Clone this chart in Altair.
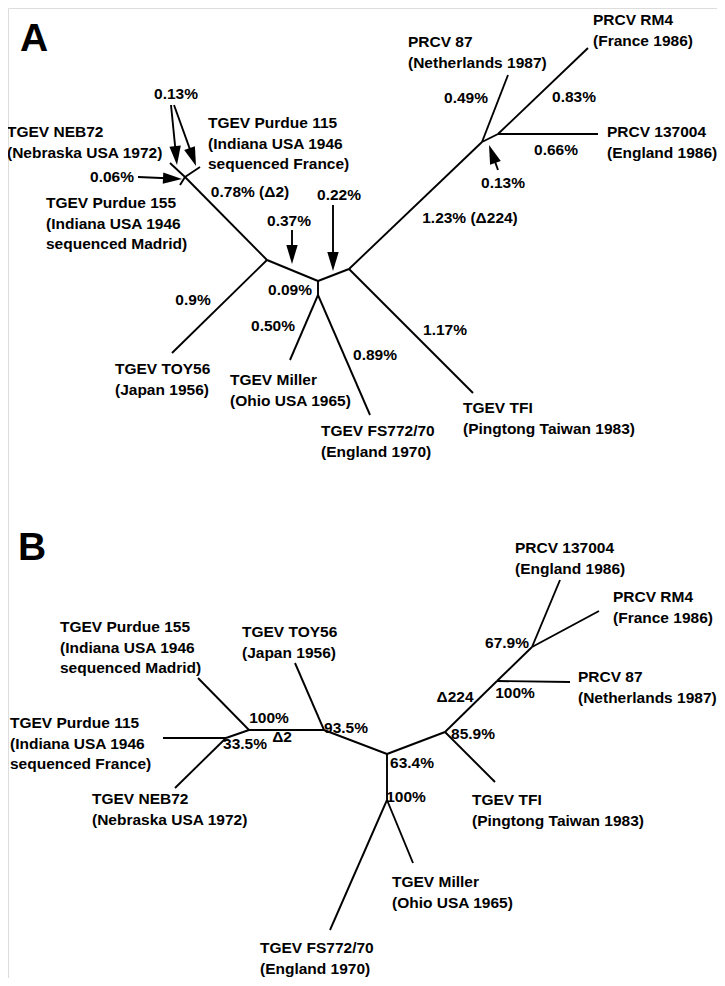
import math
import altair as alt
import pandas as pd

# ---------------- Panel A (sequence divergence tree) ----------------
a_node_names = ["NEB", "P115", "P155", "X", "N1", "TOY", "N2", "N3", "MIL", "FS",
                "N4", "TFI", "N5", "N6", "P87", "RM4", "R137"]
a_node_x = [170, 200, 180, 185, 267, 172, 318, 318, 290, 370, 349, 473, 482, 498, 508, 588, 598]
a_node_y = [163, 167, 185, 177, 260, 353, 281, 295, 360, 415, 269, 393, 142, 134, 75, 48, 134]
a_edge_from = ["X", "X", "X", "X", "N1", "N1", "N2", "N3", "N3", "N2", "N4", "N4", "N5", "N5", "N6", "N6"]
a_edge_to = ["NEB", "P115", "P155", "N1", "TOY", "N2", "N3", "MIL", "FS", "N4", "TFI", "N5", "P87", "N6", "RM4", "R137"]

a_leaf_text = [
    "TGEV NEB72\n(Nebraska USA 1972)",
    "TGEV Purdue 115\n(Indiana USA 1946\nsequenced France)",
    "TGEV Purdue 155\n(Indiana USA 1946\nsequenced Madrid)",
    "TGEV TOY56\n(Japan 1956)",
    "TGEV Miller\n(Ohio USA 1965)",
    "TGEV FS772/70\n(England 1970)",
    "TGEV TFI\n(Pingtong Taiwan 1983)",
    "PRCV 87\n(Netherlands 1987)",
    "PRCV RM4\n(France 1986)",
    "PRCV 137004\n(England 1986)",
]
a_leaf_x = [7, 208, 46, 115, 230, 321, 463, 408, 593, 607]
a_leaf_y = [132, 123, 203, 369, 380, 431, 408, 42, 20, 132]

a_pct_text = ["0.13%", "0.06%", "0.78% (\u03942)", "0.22%", "0.37%", "0.9%", "0.09%", "0.50%",
              "0.89%", "1.17%", "1.23% (\u0394224)", "0.49%", "0.83%", "0.66%", "0.13%"]
a_pct_x = [176, 112, 250, 339, 289, 193, 290, 273, 375, 445, 470, 466, 574, 556, 503]
a_pct_y = [94, 177, 192, 195, 221, 300, 290, 326, 355, 330, 218, 98, 97, 150, 183]

# arrows: tail -> tip
a_arrow_tail_x = [171, 174, 138, 292, 333, 498]
a_arrow_tail_y = [105, 105, 177, 230, 205, 170]
a_arrow_tip_x = [177, 196, 182, 292, 333, 489]
a_arrow_tip_y = [165, 166, 179, 264, 271, 145]

# ---------------- Panel B (bootstrap tree) ----------------
b_node_names = ["P155", "P", "TOY", "Q", "P115", "R", "NEB", "S", "U", "MIL", "FS",
                "T", "TFI", "W", "P87", "V", "R137", "RM4"]
b_node_x = [198, 249, 295, 324, 163, 226, 175, 387, 387, 413, 330, 445, 495, 497, 570, 532, 560, 599]
b_node_y = [678, 730, 663, 730, 738, 738, 788, 754, 800, 863, 930, 732, 782, 681, 682, 647, 580, 611]
b_edge_from = ["P", "P", "R", "R", "P", "Q", "Q", "S", "U", "U", "S", "T", "T", "W", "W", "V", "V"]
b_edge_to = ["P155", "R", "P115", "NEB", "Q", "TOY", "S", "U", "MIL", "FS", "T", "TFI", "W", "P87", "V", "R137", "RM4"]

b_leaf_text = [
    "TGEV Purdue 155\n(Indiana USA 1946\nsequenced Madrid)",
    "TGEV TOY56\n(Japan 1956)",
    "TGEV Purdue 115\n(Indiana USA 1946\nsequenced France)",
    "TGEV NEB72\n(Nebraska USA 1972)",
    "TGEV Miller\n(Ohio USA 1965)",
    "TGEV FS772/70\n(England 1970)",
    "TGEV TFI\n(Pingtong Taiwan 1983)",
    "PRCV 137004\n(England 1986)",
    "PRCV RM4\n(France 1986)",
    "PRCV 87\n(Netherlands 1987)",
]
b_leaf_x = [60, 242, 10, 92, 392, 260, 472, 515, 613, 578]
b_leaf_y = [627, 632, 723, 799, 882, 948, 800, 548, 597, 677]

b_pct_text = ["100%", "33.5%", "\u03942", "93.5%", "63.4%", "100%", "85.9%", "\u0394224", "100%", "67.9%"]
b_pct_x = [269, 245, 282, 346, 412, 406, 473, 455, 515, 507]
b_pct_y = [718, 744, 737, 728, 763, 797, 734, 697, 693, 643]

panel_letters = ["A", "B"]
panel_letter_x = [20, 18]
panel_letter_y = [39, 548]

LINE_STEP = 20.5
FONT = "Liberation Sans"
FS = 15.5

# ---------------- build tables ----------------
def edge_rows(names, xs, ys, frm, to):
    pos = {n: (x, y) for n, x, y in zip(names, xs, ys)}
    rows = []
    for f, t in zip(frm, to):
        rows.append({"x": pos[f][0], "y": pos[f][1], "x2": pos[t][0], "y2": pos[t][1]})
    return rows

edges = pd.DataFrame(edge_rows(a_node_names, a_node_x, a_node_y, a_edge_from, a_edge_to)
                     + edge_rows(b_node_names, b_node_x, b_node_y, b_edge_from, b_edge_to))

leaf_rows = []
for texts, xs_, ys_ in [(a_leaf_text, a_leaf_x, a_leaf_y), (b_leaf_text, b_leaf_x, b_leaf_y)]:
    for t, x, y in zip(texts, xs_, ys_):
        for i, line in enumerate(t.split("\n")):
            leaf_rows.append({"text": line, "x": x, "y": y + i * LINE_STEP})
leaves = pd.DataFrame(leaf_rows)

pcts = pd.DataFrame({"text": a_pct_text + b_pct_text,
                     "x": a_pct_x + b_pct_x,
                     "y": a_pct_y + b_pct_y})

HEAD_LEN = 19
shaft_rows, head_rows = [], []
for tx, ty, hx, hy in zip(a_arrow_tail_x, a_arrow_tail_y, a_arrow_tip_x, a_arrow_tip_y):
    dx, dy = hx - tx, hy - ty
    L = math.hypot(dx, dy)
    ux, uy = dx / L, dy / L
    cx, cy = hx - ux * HEAD_LEN / 2, hy - uy * HEAD_LEN / 2
    ang = math.degrees(math.atan2(dx, -dy)) % 360
    shaft_rows.append({"x": tx, "y": ty, "x2": cx, "y2": cy})
    head_rows.append({"x": cx, "y": cy, "ang": ang})
shafts = pd.DataFrame(shaft_rows)
heads = pd.DataFrame(head_rows)

letters = pd.DataFrame({"text": panel_letters, "x": panel_letter_x, "y": panel_letter_y})

xs = alt.Scale(domain=[8, 717], nice=False, zero=False)
ys = alt.Scale(domain=[8, 978], nice=False, zero=False, reverse=True)
X = lambda: alt.X("x:Q", scale=xs, axis=None)
Y = lambda: alt.Y("y:Q", scale=ys, axis=None)

edge_layer = alt.Chart(edges).mark_rule(color="black", strokeWidth=1.9).encode(
    x=X(), y=Y(), x2="x2:Q", y2="y2:Q")

shaft_layer = alt.Chart(shafts).mark_rule(color="black", strokeWidth=1.9).encode(
    x=X(), y=Y(), x2="x2:Q", y2="y2:Q")

head_layer = alt.Chart(heads).mark_point(
    shape="M0,-1L-0.6,1L0.6,1Z", filled=True, color="black", opacity=1,
    size=HEAD_LEN * HEAD_LEN, strokeWidth=0).encode(
    x=X(), y=Y(), angle=alt.Angle("ang:Q", scale=None))

leaf_layer = alt.Chart(leaves).mark_text(
    align="left", baseline="middle", font=FONT, fontSize=FS, fontWeight="bold",
    color="black").encode(x=X(), y=Y(), text="text:N")

pct_layer = alt.Chart(pcts).mark_text(
    align="center", baseline="middle", font=FONT, fontSize=FS, fontWeight="bold",
    color="black").encode(x=X(), y=Y(), text="text:N")

letter_layer = alt.Chart(letters).mark_text(
    align="left", baseline="middle", font=FONT, fontSize=39, fontWeight="bold",
    color="black").encode(x=X(), y=Y(), text="text:N")

chart = alt.layer(edge_layer, shaft_layer, head_layer, leaf_layer, pct_layer, letter_layer).properties(
    width=709, height=970, padding=0, autosize=alt.AutoSizeParams(type="none")
).configure_view(stroke=None).configure(background="white")

chart.save("out.html", embed_options={"renderer": "svg", "actions": False})
